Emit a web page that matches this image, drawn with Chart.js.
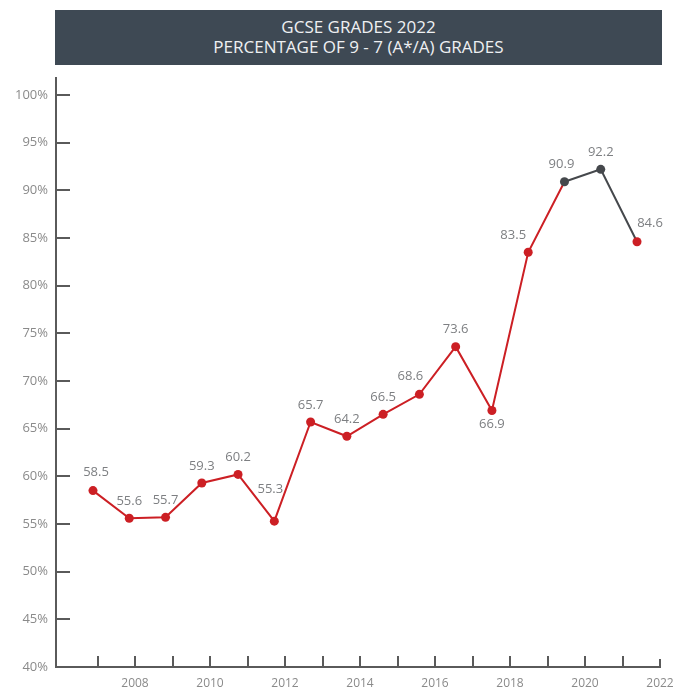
<!DOCTYPE html>
<html>
<head>
<meta charset="utf-8">
<script src="https://cdn.jsdelivr.net/npm/chart.js@4/dist/chart.umd.min.js"></script>
<style>
  html, body { margin: 0; padding: 0; background: #fff; }
  #wrap { position: relative; width: 676px; height: 689px; }
  #title {
    position: absolute; left: 55px; top: 10px; width: 607px; height: 55px;
    background: #3e4954; color: #eef0f2; text-align: center;
    font-family: "Open Sans", sans-serif; font-size: 17px; line-height: 20px;
    box-sizing: border-box; padding-top: 7px;
  }
  canvas { position: absolute; left: 0; top: 0; }
</style>
</head>
<body>
<div id="wrap">
  <canvas id="chart" width="676" height="689"></canvas>
  <div id="title">GCSE GRADES 2022<br>PERCENTAGE OF 9 - 7 (A*/A) GRADES</div>
</div>
<script>
// data
const years = [2007, 2008, 2009, 2010, 2011, 2012, 2013, 2014, 2015, 2016, 2017, 2018, 2019, 2020, 2021, 2022]
const values = [58.5, 55.6, 55.7, 59.3, 60.2, 55.3, 65.7, 64.2, 66.5, 68.6, 73.6, 66.9, 83.5, 90.9, 92.2, 84.6]
const axisYears = [2008, 2010, 2012, 2014, 2016, 2018, 2020, 2022]

// styling
const RED = '#cc1f24'
const GRAY = '#45484c'
const TXT = '#8a8a8a'
const AXIS = '#5a5a5a'
const FONT = '"Open Sans", sans-serif'
const darkIdx = [13, 14]

// label nudges (dx, dy) per point, default is right above
const labelNudge = {
  0: [3, -18],
  5: [-4, -32],
  9: [-9, -18],
  11: [0, 14],
  12: [-15, -17],
  13: [-3, -17],
  15: [13, -18],
}

// inside tick marks on both axes
const tickMarks = {
  id: 'tickMarks',
  beforeDatasetsDraw(chart) {
    const { ctx, chartArea, scales } = chart
    ctx.save()
    ctx.strokeStyle = AXIS
    ctx.lineWidth = 2
    scales.y.ticks.forEach((t) => {
      if (t.value <= 40) return
      const y = Math.round(scales.y.getPixelForValue(t.value))
      ctx.beginPath()
      ctx.moveTo(chartArea.left, y)
      ctx.lineTo(chartArea.left + 14, y)
      ctx.stroke()
    })
    scales.xt.ticks.forEach((t) => {
      if (!Number.isInteger(t.value)) return
      const x = Math.round(scales.xt.getPixelForValue(t.value))
      const len = t.value === 2022 ? 8 : 11
      ctx.beginPath()
      ctx.moveTo(x, chartArea.bottom)
      ctx.lineTo(x, chartArea.bottom - len)
      ctx.stroke()
    })
    ctx.restore()
  },
}

const valueLabels = {
  id: 'valueLabels',
  afterDatasetsDraw(chart) {
    const { ctx } = chart
    const meta = chart.getDatasetMeta(0)
    ctx.save()
    ctx.font = '13px ' + FONT
    ctx.fillStyle = '#7d7f82'
    ctx.textAlign = 'center'
    ctx.textBaseline = 'middle'
    meta.data.forEach((pt, i) => {
      const [dx, dy] = labelNudge[i] || [0, -17]
      ctx.fillText(values[i].toFixed(1), pt.x + dx, pt.y + dy)
    })
    ctx.restore()
  },
}

new Chart(document.getElementById('chart').getContext('2d'), {
  type: 'line',
  data: {
    datasets: [
      {
        data: years.map((y, i) => ({ x: y, y: values[i] })),
        xAxisID: 'x',
        yAxisID: 'y',
        borderColor: RED,
        borderWidth: 2,
        tension: 0,
        pointRadius: 4.5,
        pointBorderWidth: 0,
        pointBackgroundColor: values.map((v, i) => (darkIdx.includes(i) ? GRAY : RED)),
        pointBorderColor: values.map((v, i) => (darkIdx.includes(i) ? GRAY : RED)),
        segment: {
          borderColor: (c) => (c.p0DataIndex >= 13 ? GRAY : RED),
        },
      },
    ],
  },
  options: {
    responsive: false,
    animation: false,
    devicePixelRatio: 1,
    layout: { padding: { top: 78, right: 16, left: 0, bottom: 0 } },
    plugins: { legend: { display: false }, tooltip: { enabled: false } },
    scales: {
      x: {
        type: 'linear',
        display: false,
        min: 2005.98,
        max: 2022.634,
      },
      xt: {
        type: 'linear',
        position: 'bottom',
        axis: 'x',
        min: 2005.893,
        max: 2022,
        afterBuildTicks: (s) => {
          s.ticks = s.ticks.filter((t) => Number.isInteger(t.value))
        },
        afterFit: (s) => {
          s.height = 22
          s.paddingLeft = 0
          s.paddingRight = 0
        },
        grid: { drawOnChartArea: false, drawTicks: false },
        border: { color: AXIS, width: 2 },
        ticks: {
          stepSize: 1,
          autoSkip: false,
          maxRotation: 0,
          padding: 9,
          color: TXT,
          font: { family: FONT, size: 12 },
          callback: (v) => (axisYears.includes(v) ? String(v) : ''),
        },
      },
      y: {
        type: 'linear',
        position: 'left',
        min: 40,
        max: 101.78,
        afterBuildTicks: (s) => {
          s.ticks = s.ticks.filter((t) => t.value % 5 === 0)
        },
        afterFit: (s) => {
          s.width = 56
          s.paddingTop = 0
          s.paddingBottom = 0
        },
        grid: { drawOnChartArea: false, drawTicks: false },
        border: { color: AXIS, width: 2 },
        ticks: {
          stepSize: 5,
          padding: 8,
          color: TXT,
          font: { family: FONT, size: 13 },
          callback: (v) => v + '%',
        },
      },
    },
  },
  plugins: [tickMarks, valueLabels],
})
</script>
</body>
</html>
